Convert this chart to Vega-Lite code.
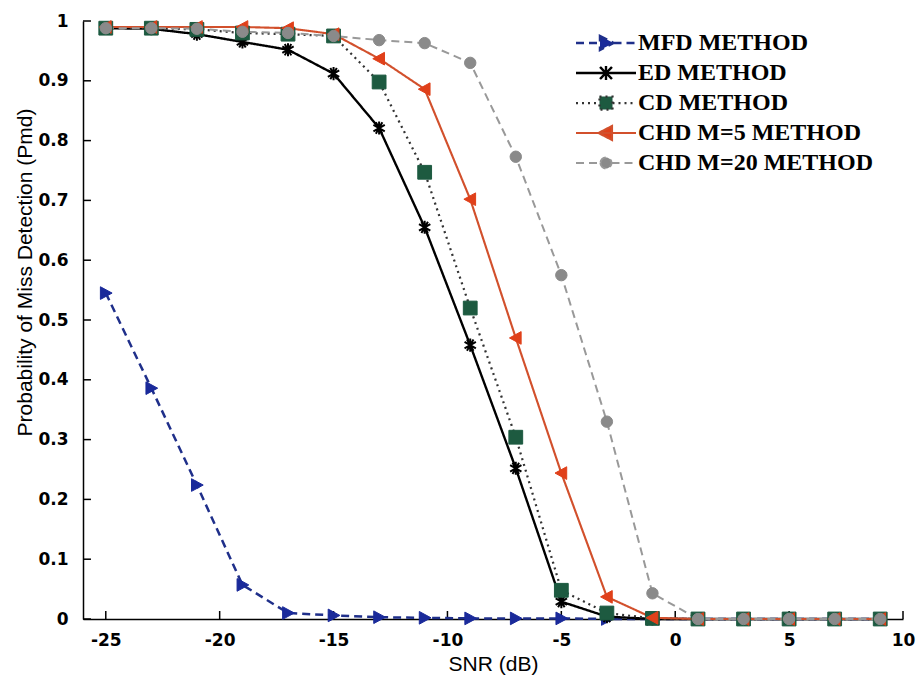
{
  "$schema": "https://vega.github.io/schema/vega-lite/v6.json",
  "width": 820,
  "height": 598,
  "autosize": {"type": "none"},
  "padding": {"left": 83, "top": 21, "right": 17, "bottom": 63},
  "background": "white",
  "config": {
    "view": {"stroke": null},
    "axis": {
      "domainColor": "black", "domainWidth": 1.5, "grid": false, "ticks": false,
      "labelColor": "black", "titleColor": "black",
      "labelFont": "DejaVu Sans", "labelFontSize": 17, "labelFontWeight": "bold",
      "titleFont": "Liberation Sans", "titleFontSize": 21, "titleFontWeight": "normal"
    }
  },
  "resolve": {"axis": {"x": "independent", "y": "independent"}},
  "datasets": {
    "xticks": [{"tick": -25}, {"tick": -20}, {"tick": -15}, {"tick": -10}, {"tick": -5}, {"tick": 0}, {"tick": 5}, {"tick": 10}],
    "yticks": [{"tick": 0}, {"tick": 0.1}, {"tick": 0.2}, {"tick": 0.3}, {"tick": 0.4}, {"tick": 0.5}, {"tick": 0.6}, {"tick": 0.7}, {"tick": 0.8}, {"tick": 0.9}, {"tick": 1}]
  },
  "data": {"values": [
    {"snr": -25, "pmd": 0.545, "method": "MFD METHOD"},
    {"snr": -23, "pmd": 0.386, "method": "MFD METHOD"},
    {"snr": -21, "pmd": 0.224, "method": "MFD METHOD"},
    {"snr": -19, "pmd": 0.057, "method": "MFD METHOD"},
    {"snr": -17, "pmd": 0.01, "method": "MFD METHOD"},
    {"snr": -15, "pmd": 0.006, "method": "MFD METHOD"},
    {"snr": -13, "pmd": 0.003, "method": "MFD METHOD"},
    {"snr": -11, "pmd": 0.002, "method": "MFD METHOD"},
    {"snr": -9, "pmd": 0.001, "method": "MFD METHOD"},
    {"snr": -7, "pmd": 0.001, "method": "MFD METHOD"},
    {"snr": -5, "pmd": 0.001, "method": "MFD METHOD"},
    {"snr": -3, "pmd": 0, "method": "MFD METHOD"},
    {"snr": -1, "pmd": 0, "method": "MFD METHOD"},
    {"snr": 1, "pmd": 0, "method": "MFD METHOD"},
    {"snr": 3, "pmd": 0, "method": "MFD METHOD"},
    {"snr": 5, "pmd": 0, "method": "MFD METHOD"},
    {"snr": 7, "pmd": 0, "method": "MFD METHOD"},
    {"snr": 9, "pmd": 0, "method": "MFD METHOD"},
    {"snr": -25, "pmd": 0.988, "method": "ED METHOD"},
    {"snr": -23, "pmd": 0.987, "method": "ED METHOD"},
    {"snr": -21, "pmd": 0.978, "method": "ED METHOD"},
    {"snr": -19, "pmd": 0.965, "method": "ED METHOD"},
    {"snr": -17, "pmd": 0.952, "method": "ED METHOD"},
    {"snr": -15, "pmd": 0.912, "method": "ED METHOD"},
    {"snr": -13, "pmd": 0.821, "method": "ED METHOD"},
    {"snr": -11, "pmd": 0.655, "method": "ED METHOD"},
    {"snr": -9, "pmd": 0.458, "method": "ED METHOD"},
    {"snr": -7, "pmd": 0.252, "method": "ED METHOD"},
    {"snr": -5, "pmd": 0.029, "method": "ED METHOD"},
    {"snr": -3, "pmd": 0.004, "method": "ED METHOD"},
    {"snr": -1, "pmd": 0, "method": "ED METHOD"},
    {"snr": 1, "pmd": 0, "method": "ED METHOD"},
    {"snr": 3, "pmd": 0, "method": "ED METHOD"},
    {"snr": 5, "pmd": 0, "method": "ED METHOD"},
    {"snr": 7, "pmd": 0, "method": "ED METHOD"},
    {"snr": 9, "pmd": 0, "method": "ED METHOD"},
    {"snr": -25, "pmd": 0.988, "method": "CD METHOD"},
    {"snr": -23, "pmd": 0.988, "method": "CD METHOD"},
    {"snr": -21, "pmd": 0.986, "method": "CD METHOD"},
    {"snr": -19, "pmd": 0.98, "method": "CD METHOD"},
    {"snr": -17, "pmd": 0.978, "method": "CD METHOD"},
    {"snr": -15, "pmd": 0.975, "method": "CD METHOD"},
    {"snr": -13, "pmd": 0.898, "method": "CD METHOD"},
    {"snr": -11, "pmd": 0.747, "method": "CD METHOD"},
    {"snr": -9, "pmd": 0.52, "method": "CD METHOD"},
    {"snr": -7, "pmd": 0.304, "method": "CD METHOD"},
    {"snr": -5, "pmd": 0.048, "method": "CD METHOD"},
    {"snr": -3, "pmd": 0.01, "method": "CD METHOD"},
    {"snr": -1, "pmd": 0.001, "method": "CD METHOD"},
    {"snr": 1, "pmd": 0, "method": "CD METHOD"},
    {"snr": 3, "pmd": 0, "method": "CD METHOD"},
    {"snr": 5, "pmd": 0, "method": "CD METHOD"},
    {"snr": 7, "pmd": 0, "method": "CD METHOD"},
    {"snr": 9, "pmd": 0, "method": "CD METHOD"},
    {"snr": -25, "pmd": 0.99, "method": "CHD M=5 METHOD"},
    {"snr": -23, "pmd": 0.99, "method": "CHD M=5 METHOD"},
    {"snr": -21, "pmd": 0.99, "method": "CHD M=5 METHOD"},
    {"snr": -19, "pmd": 0.99, "method": "CHD M=5 METHOD"},
    {"snr": -17, "pmd": 0.988, "method": "CHD M=5 METHOD"},
    {"snr": -15, "pmd": 0.978, "method": "CHD M=5 METHOD"},
    {"snr": -13, "pmd": 0.937, "method": "CHD M=5 METHOD"},
    {"snr": -11, "pmd": 0.886, "method": "CHD M=5 METHOD"},
    {"snr": -9, "pmd": 0.702, "method": "CHD M=5 METHOD"},
    {"snr": -7, "pmd": 0.47, "method": "CHD M=5 METHOD"},
    {"snr": -5, "pmd": 0.244, "method": "CHD M=5 METHOD"},
    {"snr": -3, "pmd": 0.037, "method": "CHD M=5 METHOD"},
    {"snr": -1, "pmd": 0.002, "method": "CHD M=5 METHOD"},
    {"snr": 1, "pmd": 0, "method": "CHD M=5 METHOD"},
    {"snr": 3, "pmd": 0, "method": "CHD M=5 METHOD"},
    {"snr": 5, "pmd": 0, "method": "CHD M=5 METHOD"},
    {"snr": 7, "pmd": 0, "method": "CHD M=5 METHOD"},
    {"snr": 9, "pmd": 0, "method": "CHD M=5 METHOD"},
    {"snr": -25, "pmd": 0.988, "method": "CHD M=20 METHOD"},
    {"snr": -23, "pmd": 0.988, "method": "CHD M=20 METHOD"},
    {"snr": -21, "pmd": 0.987, "method": "CHD M=20 METHOD"},
    {"snr": -19, "pmd": 0.982, "method": "CHD M=20 METHOD"},
    {"snr": -17, "pmd": 0.98, "method": "CHD M=20 METHOD"},
    {"snr": -15, "pmd": 0.975, "method": "CHD M=20 METHOD"},
    {"snr": -13, "pmd": 0.968, "method": "CHD M=20 METHOD"},
    {"snr": -11, "pmd": 0.963, "method": "CHD M=20 METHOD"},
    {"snr": -9, "pmd": 0.93, "method": "CHD M=20 METHOD"},
    {"snr": -7, "pmd": 0.773, "method": "CHD M=20 METHOD"},
    {"snr": -5, "pmd": 0.575, "method": "CHD M=20 METHOD"},
    {"snr": -3, "pmd": 0.33, "method": "CHD M=20 METHOD"},
    {"snr": -1, "pmd": 0.043, "method": "CHD M=20 METHOD"},
    {"snr": 1, "pmd": 0, "method": "CHD M=20 METHOD"},
    {"snr": 3, "pmd": 0, "method": "CHD M=20 METHOD"},
    {"snr": 5, "pmd": 0, "method": "CHD M=20 METHOD"},
    {"snr": 7, "pmd": 0, "method": "CHD M=20 METHOD"},
    {"snr": 9, "pmd": 0, "method": "CHD M=20 METHOD"}
  ]},
  "layer": [
    {
      "data": {"name": "xticks"},
      "mark": {"type": "rule", "color": "black", "strokeWidth": 1.5},
      "encoding": {
        "x": {"field": "tick", "type": "quantitative", "scale": {"domain": [-26, 10], "nice": false, "zero": false}, "axis": null},
        "y": {"datum": 0, "type": "quantitative", "scale": {"domain": [0, 1], "nice": false}, "axis": null},
        "y2": {"datum": 0.0134}
      }
    },
    {
      "data": {"name": "yticks"},
      "mark": {"type": "rule", "color": "black", "strokeWidth": 1.5},
      "encoding": {
        "y": {"field": "tick", "type": "quantitative", "axis": null},
        "x": {"datum": -26, "type": "quantitative", "axis": null},
        "x2": {"datum": -25.65}
      }
    },
    {
      "mark": {"type": "line", "strokeCap": "butt"},
      "encoding": {
        "x": {"field": "snr", "type": "quantitative",
          "scale": {"domain": [-26, 10], "nice": false, "zero": false},
          "axis": {"orient": "bottom", "title": "SNR (dB)", "values": [-25, -20, -15, -10, -5, 0, 5, 10], "labelPadding": 13, "titlePadding": 5, "titleFontSize": 21, "titleFont": "Liberation Sans", "labelFlush": false, "labelOverlap": false,
            "labelExpr": "replace(datum.label, '\u2212', '-')"}},
        "y": {"field": "pmd", "type": "quantitative",
          "scale": {"domain": [0, 1], "nice": false},
          "axis": {"orient": "left", "title": "Probability of Miss Detection (Pmd)", "values": [0, 0.1, 0.2, 0.3, 0.4, 0.5, 0.6, 0.7, 0.8, 0.9, 1], "format": "~g", "labelPadding": 15, "titleFontSize": 21, "titleFont": "Liberation Sans", "titleX": -48, "titleY": 251, "titleAngle": -90, "titleBaseline": "bottom", "titleAlign": "center", "labelFlush": false, "labelOverlap": false}},
        "color": {"field": "method", "type": "nominal",
          "scale": {"domain": ["MFD METHOD", "ED METHOD", "CD METHOD", "CHD M=5 METHOD", "CHD M=20 METHOD"],
                    "range": ["#1f2f8a", "#000000", "#333333", "#d2502c", "#999999"]},
          "legend": {
            "title": null, "orient": "none", "legendX": 511, "legendY": 10,
            "labelFont": "Liberation Serif", "labelFontSize": 24, "labelFontWeight": "bold", "labelColor": "black", "labelLimit": 500,
            "symbolSize": 400, "symbolStrokeWidth": 2, "labelOffset": 20, "rowPadding": 6,
            "encode": {"symbols": {"update": {
              "shape": {"signal": "datum.value === 'MFD METHOD' ? 'M-3,0L-0.75,0M-0.6,-0.7L0.75,0L-0.6,0.7ZM0.75,0L3,0' : datum.value === 'ED METHOD' ? 'M-3,0L3,0M0,-0.7L0,0.7M-0.6,-0.6L0.6,0.6M-0.6,0.6L0.6,-0.6' : datum.value === 'CD METHOD' ? 'M-3,0L-0.65,0M-0.65,-0.65L0.65,-0.65L0.65,0.65L-0.65,0.65ZM0.65,0L3,0' : datum.value === 'CHD M=5 METHOD' ? 'M-3,0L3,0M0.6,-0.7L-0.75,0L0.6,0.7Z' : 'M-3,0L-0.55,0M0.55,0L3,0M-0.55,0A0.55,0.55 0 1,0 0.55,0A0.55,0.55 0 1,0 -0.55,0Z'"},
              "fill": {"signal": "datum.value === 'MFD METHOD' ? '#1a2a9a' : datum.value === 'ED METHOD' ? '#000000' : datum.value === 'CD METHOD' ? '#1d5a40' : datum.value === 'CHD M=5 METHOD' ? '#e0401a' : '#8a8a8a'"},
              "fillOpacity": {"value": 1},
              "strokeWidth": {"value": 2},
              "strokeDash": {"signal": "datum.value === 'MFD METHOD' || datum.value === 'CHD M=20 METHOD' ? [7, 5] : datum.value === 'CD METHOD' ? [1.5, 4] : [1, 0]"}
            }}}
          }},
        "strokeDash": {"field": "method", "type": "nominal",
          "scale": {"domain": ["MFD METHOD", "ED METHOD", "CD METHOD", "CHD M=5 METHOD", "CHD M=20 METHOD"],
                    "range": [[8, 5], [1, 0], [2, 4], [1, 0], [8, 5]]},
          "legend": null},
        "strokeWidth": {"field": "method", "type": "nominal",
          "scale": {"domain": ["MFD METHOD", "ED METHOD", "CD METHOD", "CHD M=5 METHOD", "CHD M=20 METHOD"],
                    "range": [2.5, 2, 2, 2.5, 3]},
          "legend": null}
      }
    },
    {
      "transform": [{"filter": "datum.method === 'MFD METHOD'"}],
      "mark": {"type": "point", "shape": "M-0.85,-1L1,0L-0.85,1Z", "filled": true, "fill": "#1a2a9a", "stroke": "#1a2a9a", "strokeWidth": 1, "size": 160, "opacity": 1},
      "encoding": {
        "x": {"field": "snr", "type": "quantitative", "axis": null},
        "y": {"field": "pmd", "type": "quantitative", "axis": null}
      }
    },
    {
      "transform": [{"filter": "datum.method === 'ED METHOD'"}],
      "mark": {"type": "point", "shape": "M0,-1L0,1M-0.87,-0.5L0.87,0.5M-0.87,0.5L0.87,-0.5M-0.5,-0.87L0.5,0.87M-0.5,0.87L0.5,-0.87", "filled": false, "stroke": "#000000", "strokeWidth": 2, "size": 170, "opacity": 1},
      "encoding": {
        "x": {"field": "snr", "type": "quantitative", "axis": null},
        "y": {"field": "pmd", "type": "quantitative", "axis": null}
      }
    },
    {
      "transform": [{"filter": "datum.method === 'CD METHOD'"}],
      "mark": {"type": "point", "shape": "square", "filled": true, "fill": "#1d5a40", "stroke": "#1d5a40", "strokeWidth": 1, "size": 190, "opacity": 1},
      "encoding": {
        "x": {"field": "snr", "type": "quantitative", "axis": null},
        "y": {"field": "pmd", "type": "quantitative", "axis": null}
      }
    },
    {
      "transform": [{"filter": "datum.method === 'CHD M=5 METHOD'"}],
      "mark": {"type": "point", "shape": "M0.85,-1L-1,0L0.85,1Z", "filled": true, "fill": "#e0401a", "stroke": "#e0401a", "strokeWidth": 1, "size": 160, "opacity": 1},
      "encoding": {
        "x": {"field": "snr", "type": "quantitative", "axis": null},
        "y": {"field": "pmd", "type": "quantitative", "axis": null}
      }
    },
    {
      "transform": [{"filter": "datum.method === 'CHD M=20 METHOD'"}],
      "mark": {"type": "point", "shape": "circle", "filled": true, "fill": "#8a8a8a", "stroke": "#8a8a8a", "strokeWidth": 1, "size": 130, "opacity": 1},
      "encoding": {
        "x": {"field": "snr", "type": "quantitative", "axis": null},
        "y": {"field": "pmd", "type": "quantitative", "axis": null}
      }
    }
  ]
}
